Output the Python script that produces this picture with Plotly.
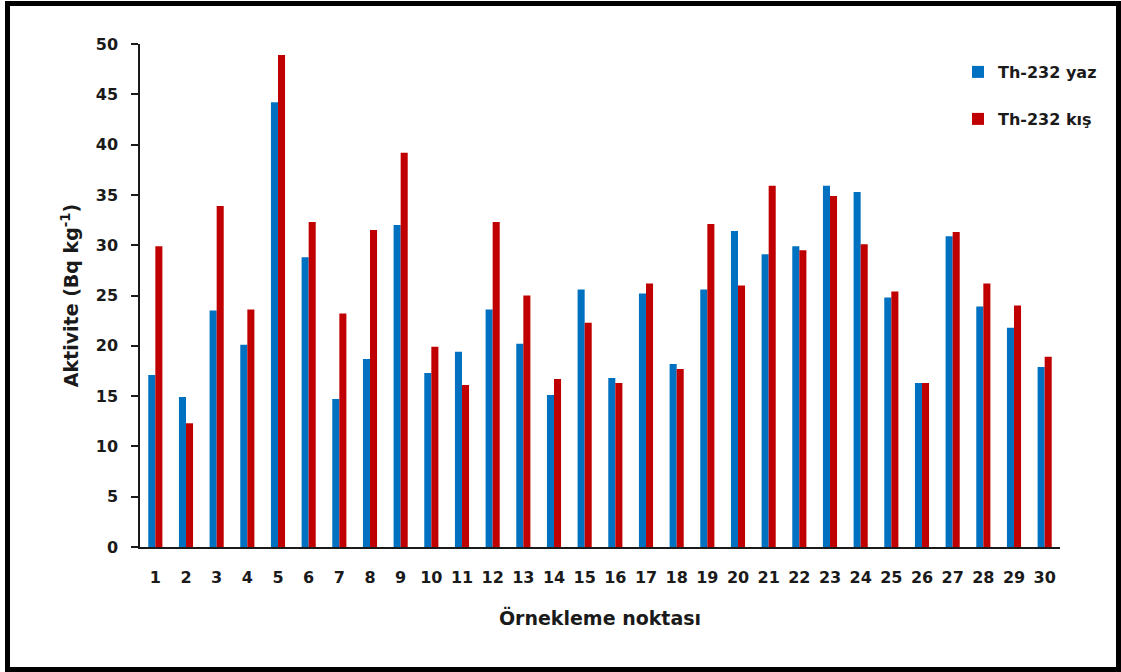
import plotly.graph_objects as go

categories = [str(i) for i in range(1, 31)]
th232_yaz = [17.1, 14.9, 23.5, 20.1, 44.2, 28.8, 14.7, 18.7, 32.0, 17.3,
             19.4, 23.6, 20.2, 15.1, 25.6, 16.8, 25.2, 18.2, 25.6, 31.4,
             29.1, 29.9, 35.9, 35.3, 24.8, 16.3, 30.9, 23.9, 21.8, 17.9]
th232_kis = [29.9, 12.3, 33.9, 23.6, 48.9, 32.3, 23.2, 31.5, 39.2, 19.9,
             16.1, 32.3, 25.0, 16.7, 22.3, 16.3, 26.2, 17.7, 32.1, 26.0,
             35.9, 29.5, 34.9, 30.1, 25.4, 16.3, 31.3, 26.2, 24.0, 18.9]
y_ticks = [0, 5, 10, 15, 20, 25, 30, 35, 40, 45, 50]

W, H = 1121, 672
L, R, T, B = 140, 1060, 44, 547  # plot area px

FONT = "DejaVu Sans"
TXT = "#1a1a1a"

fig = go.Figure()
fig.add_trace(go.Bar(x=categories, y=th232_yaz, name="Th-232 yaz",
                     marker=dict(color="#0070C0", line=dict(width=0)),
                     legend="legend"))
fig.add_trace(go.Bar(x=categories, y=th232_kis, name="Th-232 kış",
                     marker=dict(color="#C00000", line=dict(width=0)),
                     legend="legend2"))

def px_x(p):
    return (p - L) / (R - L)

def px_y(p):
    return (B - p) / (B - T)

legend_common = dict(xanchor="left", yanchor="middle", bgcolor="rgba(0,0,0,0)",
                     font=dict(family=FONT, size=16, color=TXT, weight="bold"),
                     itemwidth=30, tracegroupgap=0)

fig.update_layout(
    width=W, height=H,
    margin=dict(l=L, r=W - R, t=T, b=H - B, pad=0),
    paper_bgcolor="white", plot_bgcolor="white",
    barmode="group", bargap=0.54, bargroupgap=0.0,
    font=dict(family=FONT, color=TXT),
    showlegend=True,
    legend=dict(x=px_x(958), y=px_y(72), **legend_common),
    legend2=dict(x=px_x(958), y=px_y(119), **legend_common),
    xaxis=dict(
        type="category", showgrid=False, zeroline=False,
        showline=True, linecolor=TXT, linewidth=2,
        ticks="", tickfont=dict(family=FONT, size=16, color=TXT, weight="bold"),
        ticklabelstandoff=15,
        title=dict(text="Örnekleme noktası", standoff=25,
                   font=dict(family=FONT, size=19, color=TXT, weight="bold")),
    ),
    yaxis=dict(
        range=[0, 50], tickvals=y_ticks, showgrid=False, zeroline=False,
        showline=True, linecolor=TXT, linewidth=1.5,
        ticks="outside", ticklen=7, tickwidth=1.5, tickcolor=TXT,
        tickfont=dict(family=FONT, size=16, color=TXT, weight="bold"),
        ticklabelstandoff=10,
        title=dict(text="Aktivite (Bq kg<sup>-1</sup>)", standoff=12,
                   font=dict(family=FONT, size=19, color=TXT, weight="bold")),
    ),
    shapes=[dict(type="rect", xref="paper", yref="paper",
                 x0=px_x(7.5), x1=px_x(1118.5), y0=px_y(669.5), y1=px_y(3.5),
                 line=dict(color="black", width=5), fillcolor="rgba(0,0,0,0)",
                 layer="above")],
)

fig.write_html("out.html", config={"displayModeBar": False},
               post_script="document.body.style.margin='0px';")
